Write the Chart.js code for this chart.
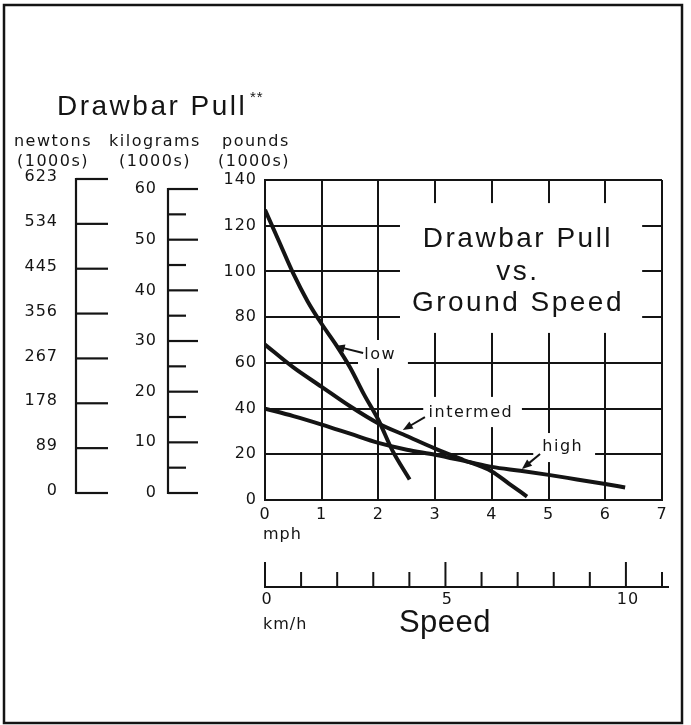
<!DOCTYPE html>
<html>
<head>
<meta charset="utf-8">
<script src="https://cdn.jsdelivr.net/npm/chart.js@4.4.0/dist/chart.umd.min.js"></script>
<style>
html,body{margin:0;padding:0;background:#fff;}
#wrap{width:691px;height:725px;}
</style>
</head>
<body>
<div id="wrap"><canvas id="c" width="691" height="725"></canvas></div>
<script>
// ---------- data ----------
const lowSpeed       = [0, 0.25, 0.5, 0.75, 1, 1.25, 1.5, 1.75, 2, 2.25, 2.55];
const lowPull        = [127, 113, 99, 87, 77, 68, 58, 46, 35, 21.5, 9];
const intermedSpeed  = [0, 0.5, 1, 1.5, 2, 2.5, 3, 3.5, 4, 4.3, 4.62];
const intermedPull   = [68, 58, 49.5, 41, 33.5, 28, 22.5, 17.5, 12.5, 7.2, 1.5];
const highSpeed      = [0, 0.5, 1, 1.5, 2, 2.5, 3, 3.6, 4, 4.5, 5, 5.5, 6, 6.35];
const highPull       = [40, 36.7, 33, 29, 25, 22, 19.8, 16.6, 14.5, 12.8, 11, 9, 7, 5.5];

const mphTicks       = [0, 1, 2, 3, 4, 5, 6, 7];
const poundTicks     = [0, 20, 40, 60, 80, 100, 120, 140];
const newtonTicks    = [0, 89, 178, 267, 356, 445, 534, 623];
const kgMajorTicks   = [0, 10, 20, 30, 40, 50, 60];
const kgMinorTicks   = [5, 15, 25, 35, 45, 55];
const kmhTicks       = [0, 1, 2, 3, 4, 5, 6, 7, 8, 9, 10, 11];
const kmhLabelTicks  = [0, 5, 10];
const seriesNames    = ['low', 'intermed', 'high'];

// ---------- annotation layout (data units: mph, 1000 lb) ----------
const INK = '#141414';
const labelBoxes = [
  {x0: 1.64, x1: 2.52, y0: 57.7, y1: 70.0},
  {x0: 2.79, x1: 4.53, y0: 31.9, y1: 45.1},
  {x0: 4.73, x1: 5.82, y0: 16.6, y1: 29.3},
  {x0: 2.38, x1: 6.65, y0: 73.1, y1: 129.9}
];
const seriesLabelPos = [
  {x: 2.03, y: 63.4, tail: [1.73, 64.3], head: [1.23, 67.4]},
  {x: 3.63, y: 38.1, tail: [2.82, 36.3], head: [2.43, 30.6]},
  {x: 5.25, y: 23.2, tail: [4.85, 20.1], head: [4.53, 13.6]}
];
const innerTitle = [
  {t: 'Drawbar Pull', x: 4.46, y: 114.2},
  {t: 'vs.', x: 4.46, y: 99.8},
  {t: 'Ground Speed', x: 4.46, y: 86.2}
];

function T(ctx, s, x, y, font, align, base, sp) {
  ctx.save();
  ctx.font = font; ctx.textAlign = align; ctx.textBaseline = base;
  ctx.letterSpacing = sp || '0px';
  ctx.fillStyle = INK;
  ctx.fillText(s, x, y);
  ctx.restore();
}
function arrow(ctx, x1, y1, x2, y2) {
  ctx.save();
  ctx.strokeStyle = INK; ctx.fillStyle = INK; ctx.lineWidth = 2;
  const a = Math.atan2(y2 - y1, x2 - x1), L = 10, W = 4;
  ctx.beginPath(); ctx.moveTo(x1, y1);
  ctx.lineTo(x2 - L * 0.6 * Math.cos(a), y2 - L * 0.6 * Math.sin(a)); ctx.stroke();
  ctx.beginPath(); ctx.moveTo(x2, y2);
  ctx.lineTo(x2 - L * Math.cos(a) + W * Math.sin(a), y2 - L * Math.sin(a) - W * Math.cos(a));
  ctx.lineTo(x2 - L * Math.cos(a) - W * Math.sin(a), y2 - L * Math.sin(a) + W * Math.cos(a));
  ctx.closePath(); ctx.fill();
  ctx.restore();
}
function line(ctx, x1, y1, x2, y2, w) {
  ctx.save(); ctx.strokeStyle = INK; ctx.lineWidth = w || 2;
  ctx.beginPath(); ctx.moveTo(x1, y1); ctx.lineTo(x2, y2); ctx.stroke(); ctx.restore();
}

const SMALL = '16px "DejaVu Sans"';
const BIG = '28px "Liberation Sans"';

const decor = {
  id: 'decor',
  beforeDraw(chart) {
    const ctx = chart.ctx;
    ctx.save(); ctx.fillStyle = '#fff'; ctx.fillRect(0, 0, chart.width, chart.height); ctx.restore();
    ctx.letterSpacing = '1px';
  },
  beforeDatasetsDraw(chart) {
    const ctx = chart.ctx, xs = chart.scales.x, ys = chart.scales.y;
    ctx.save(); ctx.fillStyle = '#fff';
    labelBoxes.forEach(b => {
      const l = xs.getPixelForValue(b.x0), r = xs.getPixelForValue(b.x1);
      const t = ys.getPixelForValue(b.y1), bt = ys.getPixelForValue(b.y0);
      ctx.fillRect(l, t, r - l, bt - t);
    });
    ctx.restore();
  },
  afterDraw(chart) {
    const ctx = chart.ctx, xs = chart.scales.x, ys = chart.scales.y;
    const yN = chart.scales.yN, yK = chart.scales.yKg, xK = chart.scales.xKmh;

    // outer frame
    ctx.save(); ctx.strokeStyle = INK; ctx.lineWidth = 2.5; ctx.strokeRect(4, 5, 678, 718); ctx.restore();

    // top-left title
    T(ctx, 'Drawbar Pull', 57, 115, BIG, 'left', 'alphabetic', '2.5px');
    T(ctx, '**', 250, 90, '15px "Liberation Sans"', 'left', 'top', '1px');

    // column headers
    T(ctx, 'newtons', 53, 142, SMALL, 'center', 'middle', '1.5px');
    T(ctx, '(1000s)', 53, 162, SMALL, 'center', 'middle', '1.5px');
    T(ctx, 'kilograms', 155, 142, SMALL, 'center', 'middle', '1.5px');
    T(ctx, '(1000s)', 155, 162, SMALL, 'center', 'middle', '1.5px');
    T(ctx, 'pounds', 222, 142, SMALL, 'left', 'middle', '1.5px');
    T(ctx, '(1000s)', 218, 162, SMALL, 'left', 'middle', '1.5px');

    // newtons axis
    const nx = 76;
    line(ctx, nx, yN.getPixelForValue(newtonTicks[newtonTicks.length - 1]) - 1, nx, yN.getPixelForValue(0) + 1, 2.2);
    newtonTicks.forEach(v => {
      const py = yN.getPixelForValue(v);
      line(ctx, nx, py, nx + 32, py, 2.2);
      T(ctx, String(v), 58, py - 2, SMALL, 'right', 'middle', '1px');
    });

    // kilograms axis
    const kx = 168;
    line(ctx, kx, yK.getPixelForValue(60) - 1, kx, yK.getPixelForValue(0) + 1, 2.2);
    kgMajorTicks.forEach(v => {
      const py = yK.getPixelForValue(v);
      line(ctx, kx, py, kx + 30, py, 2.2);
      T(ctx, String(v), 157, py, SMALL, 'right', 'middle', '1px');
    });
    kgMinorTicks.forEach(v => {
      const py = yK.getPixelForValue(v);
      line(ctx, kx, py, kx + 18, py, 2.2);
    });

    // mph unit
    T(ctx, 'mph', 263, 535, SMALL, 'left', 'middle', '1px');

    // km/h axis
    const ky = 587;
    line(ctx, xK.getPixelForValue(0) - 1, ky, xK.getPixelForValue(kmhTicks[kmhTicks.length - 1]) + 7, ky, 2.2);
    kmhTicks.forEach(v => {
      const px = xK.getPixelForValue(v);
      const tall = kmhLabelTicks.includes(v);
      line(ctx, px, ky, px, ky - (tall ? 25 : 15), 2);
    });
    kmhLabelTicks.forEach(v => {
      T(ctx, String(v), xK.getPixelForValue(v) + 2, 600, SMALL, 'center', 'middle', '1px');
    });
    T(ctx, 'km/h', 263, 625, SMALL, 'left', 'middle', '1px');
    T(ctx, 'Speed', 445, 623, '31px "Liberation Sans"', 'center', 'middle', '0.5px');

    // inner title
    innerTitle.forEach(it => {
      T(ctx, it.t, xs.getPixelForValue(it.x), ys.getPixelForValue(it.y), BIG, 'center', 'middle', '2.5px');
    });

    // series labels with arrows
    seriesLabelPos.forEach((p, i) => {
      T(ctx, seriesNames[i], xs.getPixelForValue(p.x), ys.getPixelForValue(p.y), SMALL, 'center', 'middle', '1.5px');
      arrow(ctx, xs.getPixelForValue(p.tail[0]), ys.getPixelForValue(p.tail[1]),
                 xs.getPixelForValue(p.head[0]), ys.getPixelForValue(p.head[1]));
    });
  }
};

function pts(xa, ya) { return xa.map((x, i) => ({x: x, y: ya[i]})); }
const seriesData = [pts(lowSpeed, lowPull), pts(intermedSpeed, intermedPull), pts(highSpeed, highPull)];

const gridOpts = {color: INK, lineWidth: 2, drawTicks: false};
const tickFont = {family: 'DejaVu Sans', size: 16};

new Chart(document.getElementById('c'), {
  type: 'line',
  data: {
    datasets: seriesData.map((d, i) => ({
      label: seriesNames[i],
      data: d,
      borderColor: INK,
      borderWidth: 4,
      pointRadius: 0,
      fill: false,
      cubicInterpolationMode: 'monotone'
    }))
  },
  options: {
    responsive: false,
    animation: false,
    events: [],
    layout: {padding: {top: 180, right: 29, bottom: 0, left: 0}},
    plugins: {legend: {display: false}, tooltip: {enabled: false}, title: {display: false}},
    scales: {
      x: {
        type: 'linear', position: 'bottom', min: 0, max: 7,
        afterBuildTicks: s => { s.ticks = mphTicks.map(v => ({value: v})); },
        afterFit: s => { s.height = 225; },
        grid: gridOpts,
        border: {display: true, color: INK, width: 2},
        ticks: {color: INK, font: tickFont, padding: 5, maxRotation: 0, autoSkip: false}
      },
      y: {
        type: 'linear', position: 'left', min: 0, max: 140,
        afterBuildTicks: s => { s.ticks = poundTicks.map(v => ({value: v})); },
        afterFit: s => { s.width = 265; },
        grid: gridOpts,
        border: {display: true, color: INK, width: 2},
        ticks: {color: INK, font: tickFont, padding: 8, autoSkip: false}
      },
      yN: {type: 'linear', position: 'left', display: false, min: -13.9, max: 621},
      yKg: {type: 'linear', position: 'left', display: false, min: -1.38, max: 61.78},
      xKmh: {type: 'linear', position: 'bottom', display: false, min: 0, max: 11}
    }
  },
  plugins: [decor]
});
</script>
</body>
</html>
